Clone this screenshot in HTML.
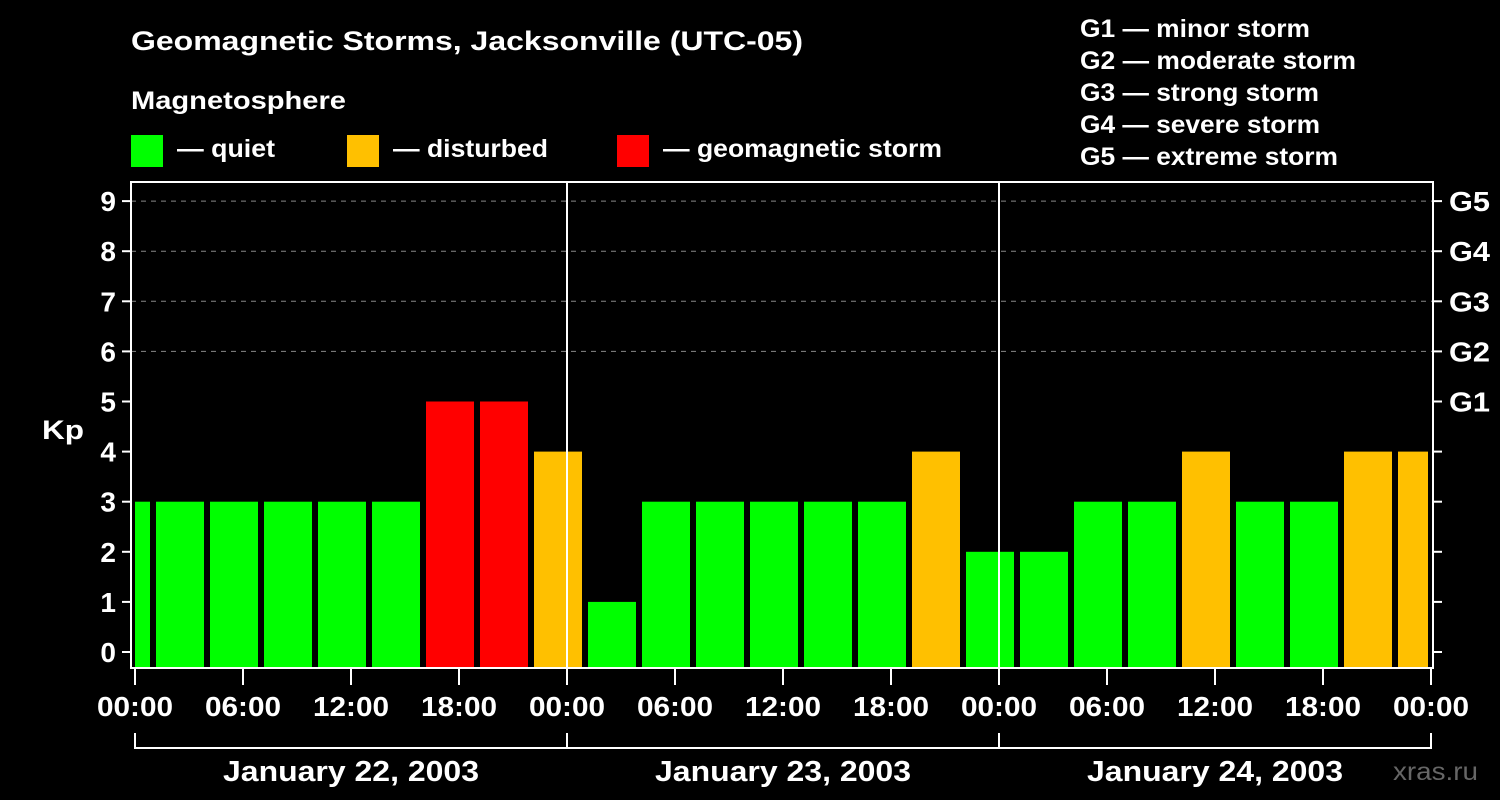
<!DOCTYPE html>
<html><head><meta charset="utf-8"><style>
html,body{margin:0;padding:0;background:#000;}
svg{display:block;font-family:"Liberation Sans",sans-serif;font-weight:bold;}
</style></head><body>
<svg id="c" width="1500" height="800">
<rect width="1500" height="800" fill="#000"/>
<text x="131" y="50" fill="#fff" font-size="27" textLength="672" lengthAdjust="spacingAndGlyphs">Geomagnetic Storms, Jacksonville (UTC-05)</text>
<text x="131" y="109" fill="#fff" font-size="25" textLength="215" lengthAdjust="spacingAndGlyphs">Magnetosphere</text>
<g><rect x="131" y="135" width="32" height="32" fill="#00ff00"/><text x="177" y="157" fill="#fff" font-size="25" textLength="98" lengthAdjust="spacingAndGlyphs">— quiet</text></g>
<g><rect x="347" y="135" width="32" height="32" fill="#ffc000"/><text x="393" y="157" fill="#fff" font-size="25" textLength="155" lengthAdjust="spacingAndGlyphs">— disturbed</text></g>
<g><rect x="617" y="135" width="32" height="32" fill="#ff0000"/><text x="663" y="157" fill="#fff" font-size="25" textLength="279" lengthAdjust="spacingAndGlyphs">— geomagnetic storm</text></g>
<g fill="#fff" font-size="25">
<text x="1080" y="37" textLength="230" lengthAdjust="spacingAndGlyphs">G1 — minor storm</text>
<text x="1080" y="69" textLength="276" lengthAdjust="spacingAndGlyphs">G2 — moderate storm</text>
<text x="1080" y="101" textLength="239" lengthAdjust="spacingAndGlyphs">G3 — strong storm</text>
<text x="1080" y="133" textLength="240" lengthAdjust="spacingAndGlyphs">G4 — severe storm</text>
<text x="1080" y="165" textLength="258" lengthAdjust="spacingAndGlyphs">G5 — extreme storm</text>
</g>
<text x="42" y="439" fill="#fff" font-size="27" textLength="42" lengthAdjust="spacingAndGlyphs">Kp</text>
<text x="1393" y="780" fill="#666" font-size="25" textLength="85" lengthAdjust="spacingAndGlyphs" font-weight="normal">xras.ru</text>
<g id="plot"></g>
</svg>
<script>
const kpValues=[3,3,3,3,3,3,5,5,4,1,3,3,3,3,3,4,2,2,3,3,4,3,3,4,4];
const barStartHours=[-2,1,4,7,10,13,16,19,22,25,28,31,34,37,40,43,46,49,52,55,58,61,64,67,70];
const yTicks=[0,1,2,3,4,5,6,7,8,9];
const gLabels=["G1","G2","G3","G4","G5"];
const xTickLabels=["00:00","06:00","12:00","18:00","00:00","06:00","12:00","18:00","00:00","06:00","12:00","18:00","00:00"];
const dayLabels=["January 22, 2003","January 23, 2003","January 24, 2003"];
const NS="http://www.w3.org/2000/svg";
const g=document.getElementById('plot');
const X0=135,PH=18,HMAX=72;
const x=h=>X0+h*PH;
const y=v=>652-v*50.1;
const L=131,R=1433,T=182,B=668;
function mk(t,a){const e=document.createElementNS(NS,t);for(const k in a)e.setAttribute(k,a[k]);g.appendChild(e);return e;}
function col(v){return v>=5?'#ff0000':v>=4?'#ffc000':'#00ff00';}
for(const v of [6,7,8,9]){const e=mk('line',{x1:L,x2:R,y1:y(v),y2:y(v),stroke:'#888','stroke-dasharray':'5,5','stroke-width':1});

}
kpValues.forEach((v,i)=>{const s=Math.max(barStartHours[i],0),e0=Math.min(barStartHours[i]+3,HMAX);
let x1=x(s)+(barStartHours[i]<0?0:3),x2=x(e0)-3;
const r=mk('rect',{x:x1,y:y(v),width:x2-x1,height:B-y(v),fill:col(v)});

});
for(const h of [24,48]){const e=mk('line',{x1:x(h),x2:x(h),y1:T,y2:B,stroke:'#fff','stroke-width':2});

}
const f=mk('rect',{x:L,y:T,width:R-L,height:B-T,fill:'none',stroke:'#fff','stroke-width':2});


yTicks.forEach(v=>{mk('line',{x1:122,x2:L,y1:y(v),y2:y(v),stroke:'#fff','stroke-width':2});
mk('line',{x1:R,x2:1442,y1:y(v),y2:y(v),stroke:'#fff','stroke-width':2});
const t=mk('text',{x:116,y:y(v)+10,fill:'#fff','font-size':28,'text-anchor':'end'});t.textContent=v;

});
gLabels.forEach((s,i)=>{const t=mk('text',{x:1449,y:y(5+i)+10,fill:'#fff','font-size':28,textLength:41,lengthAdjust:'spacingAndGlyphs'});t.textContent=s;

});
xTickLabels.forEach((s,i)=>{const h=i*6;mk('line',{x1:x(h),x2:x(h),y1:B,y2:685,stroke:'#fff','stroke-width':2});
const t=mk('text',{x:x(h)-38,y:716,fill:'#fff','font-size':28,textLength:76,lengthAdjust:'spacingAndGlyphs'});t.textContent=s;

});
mk('line',{x1:x(0),x2:x(72),y1:748,y2:748,stroke:'#fff','stroke-width':2});
for(const h of [0,24,48,72])mk('line',{x1:x(h),x2:x(h),y1:733,y2:749,stroke:'#fff','stroke-width':2});
dayLabels.forEach((s,i)=>{const t=mk('text',{x:x(i*24+12)-128,y:781,fill:'#fff','font-size':29,textLength:256,lengthAdjust:'spacingAndGlyphs'});t.textContent=s;

});
</script>
</body></html>
